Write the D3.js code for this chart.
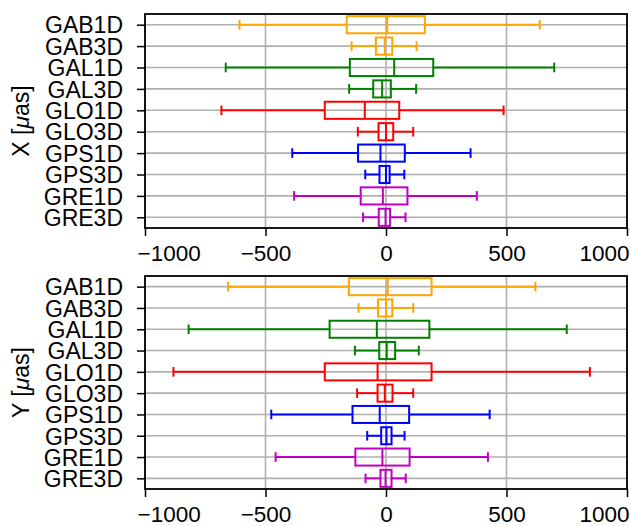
<!DOCTYPE html>
<html>
<head>
<meta charset="utf-8">
<script src="https://cdn.jsdelivr.net/npm/d3@7"></script>
<style>
  body { margin: 0; background: #fff; }
  svg { display: block; }
  text { font-family: "Liberation Sans", Arial, sans-serif; }
</style>
</head>
<body>
<svg id="chart" width="630" height="526"></svg>
<script>
const categories = ["GAB1D","GAB3D","GAL1D","GAL3D","GLO1D","GLO3D","GPS1D","GPS3D","GRE1D","GRE3D"];
const colors = ["#FFA500","#FFA500","#008000","#008000","#FF0000","#FF0000","#0000FF","#0000FF","#BF00BF","#BF00BF"];
const xTicks = [-1000, -500, 0, 500, 1000];

// [whiskerLow, q1, median, q3, whiskerHigh]
const statsX = [
  [-608, -163, 5, 161, 638],
  [-143, -42, -5, 26, 127],
  [-665, -150, 34, 196, 698],
  [-153, -53, -16, 20, 125],
  [-683, -254, -88, 55, 488],
  [-117, -31, 0, 30, 113],
  [-389, -116, -23, 78, 351],
  [-86, -27, 0, 15, 76],
  [-381, -105, -13, 89, 377],
  [-95, -30, -2, 17, 81]
];
const statsY = [
  [-655, -154, 7, 189, 620],
  [-114, -33, 0, 26, 113],
  [-819, -234, -38, 180, 750],
  [-129, -28, 3, 38, 136],
  [-882, -254, -35, 189, 846],
  [-120, -35, -5, 27, 113],
  [-476, -139, -26, 96, 430],
  [-78, -20, 2, 23, 77],
  [-458, -127, -15, 98, 423],
  [-85, -23, -2, 23, 82]
];

const svg = d3.select("#chart");
const left = 145, right = 627;
const panels = [
  {stats: statsX, top: 14, bottom: 228, label: "X"},
  {stats: statsY, top: 276, bottom: 489, label: "Y"}
];
const fontSize = 23;

panels.forEach(p => {
  const g = svg.append("g");
  const x = d3.scaleLinear().domain([-1000, 1000]).range([left, right]);
  const y = d3.scaleLinear().domain([0.5, categories.length + 0.5]).range([p.top, p.bottom]);
  const unit = y(1) - y(0);
  const boxH = 0.8 * unit;
  const capH = 0.45 * unit;

  // grid
  g.selectAll(".vg").data(xTicks).join("line")
    .attr("x1", d => x(d)).attr("x2", d => x(d))
    .attr("y1", p.top).attr("y2", p.bottom)
    .attr("stroke", "#b0b0b0").attr("stroke-width", 1.6);
  g.selectAll(".hg").data(categories).join("line")
    .attr("x1", left).attr("x2", right)
    .attr("y1", (d, i) => y(i + 1)).attr("y2", (d, i) => y(i + 1))
    .attr("stroke", "#b0b0b0").attr("stroke-width", 1.6);

  // boxes
  p.stats.forEach((s, i) => {
    const c = colors[i];
    const cy = y(i + 1);
    const bg = g.append("g").attr("stroke", c).attr("stroke-width", 2).attr("fill", "none");
    bg.append("line").attr("x1", x(s[0])).attr("x2", x(s[1])).attr("y1", cy).attr("y2", cy);
    bg.append("line").attr("x1", x(s[3])).attr("x2", x(s[4])).attr("y1", cy).attr("y2", cy);
    bg.append("line").attr("x1", x(s[0])).attr("x2", x(s[0])).attr("y1", cy - capH/2).attr("y2", cy + capH/2);
    bg.append("line").attr("x1", x(s[4])).attr("x2", x(s[4])).attr("y1", cy - capH/2).attr("y2", cy + capH/2);
    bg.append("rect").attr("x", x(s[1])).attr("width", x(s[3]) - x(s[1]))
      .attr("y", cy - boxH/2).attr("height", boxH);
    bg.append("line").attr("x1", x(s[2])).attr("x2", x(s[2])).attr("y1", cy - boxH/2).attr("y2", cy + boxH/2);
  });

  // axes
  const xAxis = d3.axisBottom(x).tickValues(xTicks).tickSize(8).tickPadding(9)
    .tickFormat(d => d < 0 ? "\u2212" + Math.abs(d) : String(d));
  const xa = g.append("g").attr("transform", `translate(0,${p.bottom})`).call(xAxis);
  const yAxis = d3.axisLeft(y).tickValues(d3.range(1, categories.length + 1)).tickSize(8).tickPadding(14)
    .tickFormat(d => categories[d - 1]);
  const ya = g.append("g").attr("transform", `translate(${left},0)`).call(yAxis);
  [xa, ya].forEach(a => {
    a.selectAll("text").attr("font-size", fontSize).attr("fill", "#000")
      .style("font-family", "'Liberation Sans', Arial, sans-serif");
    a.selectAll("line").attr("stroke", "#000").attr("stroke-width", 1.5);
    a.select(".domain").remove();
  });
  xa.selectAll("text").attr("font-size", 22.5);
  ya.selectAll("text").attr("dy", "0.36em");
  // edge tick labels kept inside the figure, as in the reference
  const xt = xa.selectAll(".tick text");
  const n = xTicks.length;
  xt.filter((d, i) => i === 0).attr("text-anchor", "start").attr("x", -8);
  xt.filter((d, i) => i === n - 1).attr("text-anchor", "end").attr("x", 2);

  // frame
  g.append("rect").attr("x", left).attr("y", p.top).attr("width", right - left).attr("height", p.bottom - p.top)
    .attr("fill", "none").attr("stroke", "#000").attr("stroke-width", 1.8);

  // y label
  const cyl = (p.top + p.bottom) / 2;
  const lab = g.append("text").attr("transform", `translate(29,${cyl}) rotate(-90)`)
    .attr("text-anchor", "middle").attr("font-size", fontSize);
  lab.append("tspan").text(p.label + " [");
  lab.append("tspan").attr("font-style", "italic").text("\u03bc");
  lab.append("tspan").text("as]");
});
</script>
</body>
</html>
